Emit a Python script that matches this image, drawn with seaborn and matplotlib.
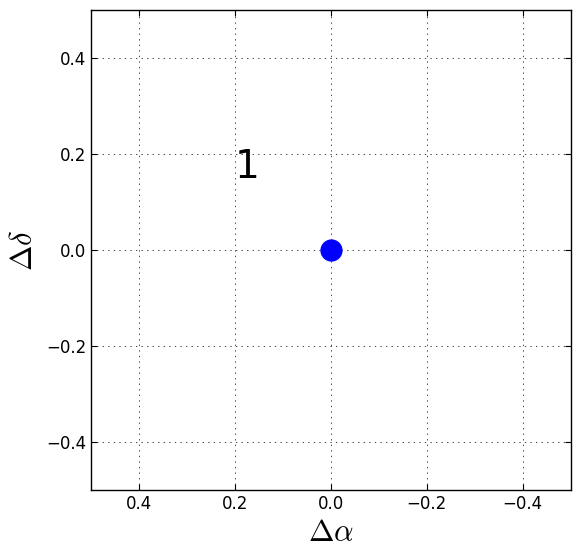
import matplotlib
matplotlib.use("Agg")
import matplotlib.pyplot as plt
import seaborn as sns
import pandas as pd

# ── Data ──────────────────────────────────────────────────────────────────────
d_alpha = [0.0]
d_delta = [0.0]
label_text = ["1"]
label_x = [0.2]
label_y = [0.15]

df = pd.DataFrame({"da": d_alpha, "dd": d_delta})

sns.set_style("ticks")
plt.rcParams["font.family"] = ["DejaVu Sans"]
plt.rcParams["mathtext.fontset"] = "cm"
plt.rcParams["xtick.direction"] = "in"
plt.rcParams["ytick.direction"] = "in"
plt.rcParams["text.color"] = "black"
plt.rcParams["axes.labelcolor"] = "black"
plt.rcParams["lines.scale_dashes"] = False

fig = plt.figure(figsize=(5.8, 5.58), dpi=100)
ax = fig.add_axes([0.157, 0.122, 0.827, 0.860])

sns.scatterplot(data=df, x="da", y="dd", ax=ax, color="#0000ff", s=256,
                linewidth=0, zorder=3, legend=False)

for t, x, y in zip(label_text, label_x, label_y):
    ax.text(x, y, t, fontsize=28, ha="left", va="baseline", color="black")

ax.set_xlim(0.5, -0.5)
ax.set_ylim(-0.5, 0.5)
ax.set_xticks([0.4, 0.2, 0.0, -0.2, -0.4])
ax.set_yticks([-0.4, -0.2, 0.0, 0.2, 0.4])
ax.grid(True, linestyle=(0, (1, 3)), color="black", linewidth=0.5)
ax.tick_params(top=True, right=True, labelsize=12, length=4, width=0.8, colors="black")
for s in ax.spines.values():
    s.set_linewidth(1.0)
    s.set_color("black")

ax.set_xlabel(r"$\Delta\alpha$", fontsize=22, labelpad=4)
ax.set_ylabel(r"$\Delta\delta$", fontsize=22, labelpad=6)

fig.savefig("out.png", dpi=100)
